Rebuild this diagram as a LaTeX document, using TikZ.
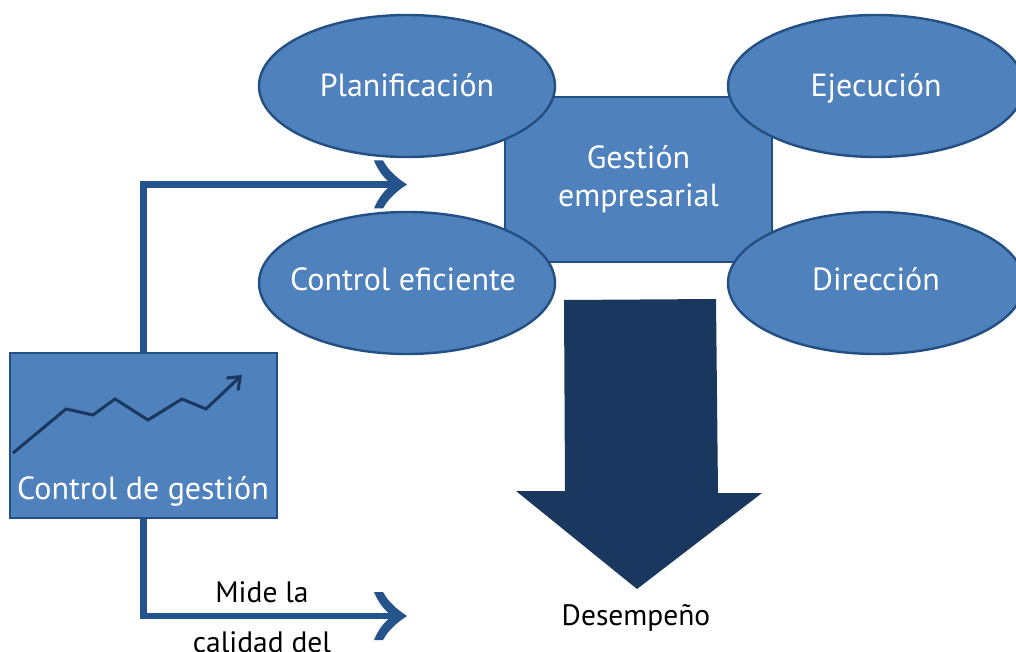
\documentclass[tikz,border=0pt]{standalone}
\usepackage{fontspec}
\setmainfont{PT Sans}
\usetikzlibrary{shapes.geometric,arrows.meta}
\definecolor{azulclaro}{HTML}{4F81BD}
\definecolor{azulborde}{HTML}{234F83}
\definecolor{azulflecha}{HTML}{25538B}
\definecolor{azuloscuro}{HTML}{1A385F}
% punta curva de los conectores
\pgfdeclarearrow{
	name = Punta,
	setup code = {
		\pgfarrowssettipend{0pt}
		\pgfarrowssetlineend{-12pt}
		\pgfarrowssetvisualbackend{-33pt}
		\pgfarrowssetbackend{-33pt}
	},
	drawing code = {
		\pgfsetfillcolor{azulflecha}
		\pgfpathmoveto{\pgfpoint{0pt}{0pt}}
		\pgfpathcurveto{\pgfpoint{-9pt}{6pt}}{\pgfpoint{-18pt}{13pt}}{\pgfpoint{-24pt}{24pt}}
		\pgfpathlineto{\pgfpoint{-33pt}{24pt}}
		\pgfpathcurveto{\pgfpoint{-29pt}{14pt}}{\pgfpoint{-23pt}{6pt}}{\pgfpoint{-15pt}{0pt}}
		\pgfpathcurveto{\pgfpoint{-23pt}{-6pt}}{\pgfpoint{-29pt}{-14pt}}{\pgfpoint{-33pt}{-24pt}}
		\pgfpathlineto{\pgfpoint{-24pt}{-24pt}}
		\pgfpathcurveto{\pgfpoint{-18pt}{-13pt}}{\pgfpoint{-9pt}{-6pt}}{\pgfpoint{0pt}{0pt}}
		\pgfpathclose
		\pgfusepathqfill
	}
}
\tikzset{
	ovalo/.style={ellipse, draw=azulborde, fill=azulclaro, line width=2.4pt, minimum width=296pt, minimum height=142pt, inner sep=0pt},
	caja/.style={rectangle, draw=azulborde, fill=azulclaro, line width=2.4pt, inner sep=0pt},
	blanco/.style={text=white, font=\fontsize{32}{38}\selectfont, align=center},
	linea/.style={text height=26pt, text depth=4pt},
	negro/.style={text=black, font=\fontsize{29.5}{34}\selectfont, text height=21pt, text depth=6pt},
	conector/.style={draw=azulflecha, line width=6.5pt, -Punta}
}
\begin{document}
\begin{tikzpicture}[x=1pt, y=-1pt]
		\clip (0, 0) rectangle (1016, 652);
		% gestion empresarial
		\node[caja, minimum width=267pt, minimum height=165pt, blanco] (gestion) at (638.5, 179.5) {Gestión\\empresarial};
		% ovalos
		\node[ovalo, blanco, linea] (planificacion) at (407, 86) {Planificación};
		\node[ovalo, blanco, linea] (ejecucion) at (876, 86) {Ejecución};
		\node[ovalo] (eficiente) at (407, 283) {};
		\node[blanco, linea] (eficientetexto) at (403, 279) {Control eficiente};
		\node[ovalo] (direccion) at (876, 283) {};
		\node[blanco, linea] (direcciontexto) at (876, 279) {Dirección};
		% control de gestion
		\node[caja, minimum width=267pt, minimum height=165pt] (control) at (143.5, 435.5) {};
		\node[blanco, linea] (controltexto) at (143, 488) {Control de gestión};
		\draw[azuloscuro, line width=3pt, -{Straight Barb[length=11pt,width=17pt]}]
		(13, 453) --
		(66, 409) --
		(93, 415) --
		(115, 399) --
		(148, 420) --
		(182, 399) --
		(206, 409) --
		(242, 375);
		% flechas
		\coordinate (arriba) at (407, 184.5);
		\coordinate (abajo) at (407, 616);
		\draw[conector] (control.north) |- (arriba);
		\draw[conector] (control.south) |- (abajo);
		\node[negro] (mide) at (262, 595) {Mide la};
		\node[negro] (calidad) at (262, 645) {calidad del};
		% desempeno
		\fill[azuloscuro]
		(564, 300) --
		(716, 299) --
		(718, 493) --
		(762, 493) --
		(637, 589) --
		(516, 491) --
		(565, 491) --
		cycle;
		\node[negro] (desempeno) at (636, 617.5) {Desempeño};
	\end{tikzpicture}
\end{document}
